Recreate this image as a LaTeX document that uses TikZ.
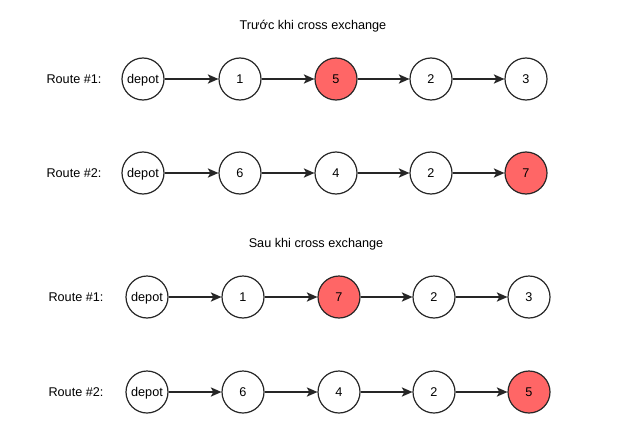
\documentclass[tikz,border=0pt]{standalone}
\usepackage{fontspec}
\setmainfont{Liberation Sans}
\usetikzlibrary{arrows.meta}
\definecolor{hl}{HTML}{FF6666}
\begin{document}
\begin{tikzpicture}[x=0.75pt,y=-0.75pt,
  every node/.style={font=\fontsize{9.5}{11}\selectfont},
  stop/.style={circle,draw=black!85,line width=0.9pt,minimum size=31.5pt,inner sep=0pt,fill=white,text height=6.8pt,text depth=0.6pt},
  hot/.style={stop,fill=hl},
  lbl/.style={anchor=center},
  link/.style={draw=black!85,line width=0.8pt,-{Stealth[length=8pt,width=7pt,inset=2pt]}}
]
\useasboundingbox (0,0) rectangle (624,435);
% titles
\node (t1) at (313,26) {Trước khi cross exchange};
\node (t2) at (316,244) {Sau khi cross exchange};
% before, route 1
\node[lbl] (l11) at (74,79) {Route \#1:};
\node[stop] (a0) at (143,79) {depot};
\node[stop] (a1) at (240,79) {1};
\node[hot]  (a2) at (336,79) {5};
\node[stop] (a3) at (431,79) {2};
\node[stop] (a4) at (526,79) {3};
% before, route 2
\node[lbl] (l12) at (74,173) {Route \#2:};
\node[stop] (b0) at (143,173) {depot};
\node[stop] (b1) at (240,173) {6};
\node[stop] (b2) at (336,173) {4};
\node[stop] (b3) at (431,173) {2};
\node[hot]  (b4) at (526,173) {7};
% after, route 1
\node[lbl] (l21) at (76,297) {Route \#1:};
\node[stop] (c0) at (147,297) {depot};
\node[stop] (c1) at (243,297) {1};
\node[hot]  (c2) at (339,297) {7};
\node[stop] (c3) at (434,297) {2};
\node[stop] (c4) at (529,297) {3};
% after, route 2
\node[lbl] (l22) at (76,392) {Route \#2:};
\node[stop] (d0) at (147,392) {depot};
\node[stop] (d1) at (243,392) {6};
\node[stop] (d2) at (339,392) {4};
\node[stop] (d3) at (434,392) {2};
\node[hot]  (d4) at (529,392) {5};
\foreach \r in {a,b,c,d}{
  \draw[link] (\r0) -- (\r1);
  \draw[link] (\r1) -- (\r2);
  \draw[link] (\r2) -- (\r3);
  \draw[link] (\r3) -- (\r4);
}
\end{tikzpicture}
\end{document}
